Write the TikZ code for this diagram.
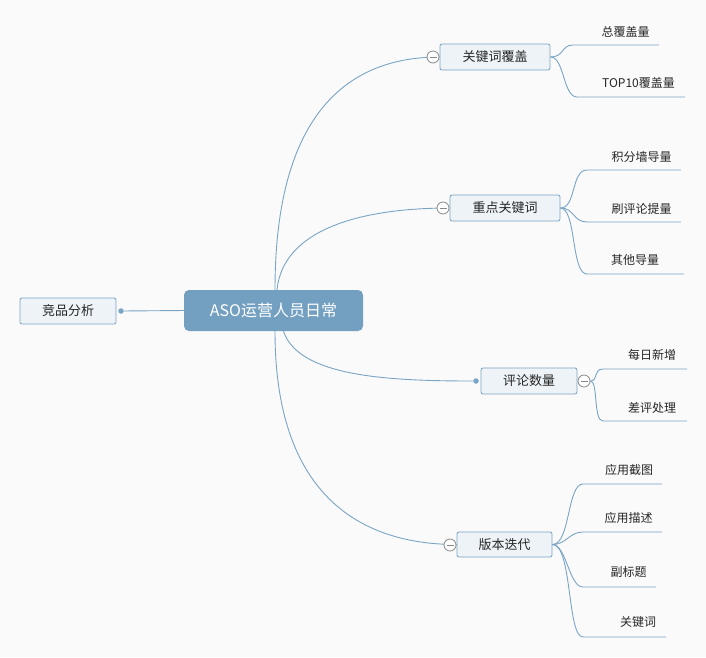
\documentclass[tikz,border=0pt]{standalone}
\usepackage{fontspec}
\setmainfont{Noto Sans CJK SC}
\definecolor{bg}{HTML}{FAFAFA}
\definecolor{ln}{HTML}{7AA4C4}
\definecolor{boxfill}{HTML}{EEF3F7}
\definecolor{boxdraw}{HTML}{7AA3C3}
\definecolor{rootfill}{HTML}{73A0C1}
\definecolor{cgray}{HTML}{888888}
\begin{document}
\begin{tikzpicture}[x=1pt,y=-1pt,
 topic/.style={draw=boxdraw, fill=boxfill, rounded corners=2pt, inner sep=0, minimum height=26pt, font=\fontsize{13}{15}\selectfont, text=black!85, line width=0.8pt},
 root/.style={fill=rootfill, rounded corners=5pt, text=white, font=\fontsize{16}{18}\selectfont, minimum width=179pt, minimum height=41pt, inner sep=0},
 leaf/.style={font=\fontsize{12}{14}\selectfont, inner sep=0, text=black!85},
 conn/.style={draw=ln, line width=0.9pt},
 fold/.style={circle, draw=cgray, fill=white, minimum size=12pt, inner sep=0, line width=0.8pt},
 dotc/.style={circle, fill=ln, minimum size=5.5pt, inner sep=0}]
\fill[bg] (0,0) rectangle (706,657);
\useasboundingbox (0,0) rectangle (706,657);

% main nodes
\node[root] (root) at (273.5,310.5) {ASO运营人员日常};
\node[topic, minimum width=96pt] (comp) at (68,311) {竞品分析};
\node[topic, minimum width=110pt] (t1) at (495,57) {关键词覆盖};
\node[topic, minimum width=110pt] (t2) at (505,208) {重点关键词};
\node[topic, minimum width=96pt] (t3) at (529,381) {评论数量};
\node[topic, minimum width=95pt, minimum height=25pt] (t4) at (504.5,544.5) {版本迭代};

% dots
\node[dotc] (d0) at (121,311) {};
\node[dotc] (d3) at (476,381) {};

% main connectors
\draw[conn] (root.west) -- (d0);
\draw[conn] ([xshift=1.5pt]root.north) .. controls +(0,-190) and +(-80,0) .. (t1.west);
\draw[conn] ([xshift=3.5pt]root.north) .. controls +(6,-60) and +(-90,0) .. (t2.west);
\draw[conn] ([xshift=10pt]root.south) .. controls +(15,45) and +(-90,0) .. (d3);
\draw[conn] ([xshift=1.5pt]root.south) .. controls +(0,170) and +(-90,0) .. (t4.west);

% fold circles
\node[fold] (f1) at (433,57) {};
\node[fold] (f2) at (443,208) {};
\node[fold] (f3) at (584,381) {};
\node[fold] (f4) at (450,545) {};
\foreach \f in {f1,f2,f3,f4}{\draw[cgray, line width=0.8pt] ([xshift=-3.5pt]\f.center) -- ([xshift=3.5pt]\f.center);}

% leaves
\node[leaf] (l11) at (625.5,32) {总覆盖量};
\node[leaf] (l12) at (638.5,83) {TOP10覆盖量};
\coordinate (l11a) at (573,45); \coordinate (l11b) at (659,45);
\coordinate (l12a) at (577,97); \coordinate (l12b) at (685,97);

\node[leaf] (l21) at (641.5,157) {积分墙导量};
\node[leaf] (l22) at (641.5,209) {刷评论提量};
\node[leaf] (l23) at (635,260) {其他导量};
\coordinate (l21a) at (587,170); \coordinate (l21b) at (681,170);
\coordinate (l22a) at (587,222); \coordinate (l22b) at (681,222);
\coordinate (l23a) at (587,274); \coordinate (l23b) at (684,274);

\node[leaf] (l31) at (652,355) {每日新增};
\node[leaf] (l32) at (652,408) {差评处理};
\coordinate (l31a) at (603,369); \coordinate (l31b) at (687,369);
\coordinate (l32a) at (603,421); \coordinate (l32b) at (687,421);

\node[leaf] (l41) at (629,470) {应用截图};
\node[leaf] (l42) at (628.5,518) {应用描述};
\node[leaf] (l43) at (628.5,572) {副标题};
\node[leaf] (l44) at (638,622) {关键词};
\coordinate (l41a) at (583,484); \coordinate (l41b) at (662,484);
\coordinate (l42a) at (583,532); \coordinate (l42b) at (662,532);
\coordinate (l43a) at (583,587); \coordinate (l43b) at (656,587);
\coordinate (l44a) at (583,637); \coordinate (l44b) at (666,637);

% leaf connectors
\draw[conn] (t1.east) .. controls +(14,0) and +(-12,0) .. (l11a) -- (l11b);
\draw[conn] (t1.east) .. controls +(14,0) and +(-14,0) .. (l12a) -- (l12b);
\draw[conn] (t2.east) .. controls +(16,0) and +(-16,0) .. (l21a) -- (l21b);
\draw[conn] (t2.east) .. controls +(14,0) and +(-14,0) .. (l22a) -- (l22b);
\draw[conn] (t2.east) .. controls +(16,0) and +(-16,0) .. (l23a) -- (l23b);
\draw[conn] (f3.east) .. controls +(8,0) and +(-10,0) .. (l31a) -- (l31b);
\draw[conn] (f3.east) .. controls +(8,0) and +(-10,0) .. (l32a) -- (l32b);
\draw[conn] (t4.east) .. controls +(18,0) and +(-16,0) .. (l41a) -- (l41b);
\draw[conn] (t4.east) .. controls +(14,0) and +(-14,0) .. (l42a) -- (l42b);
\draw[conn] (t4.east) .. controls +(14,0) and +(-14,0) .. (l43a) -- (l43b);
\draw[conn] (t4.east) .. controls +(20,0) and +(-16,0) .. (l44a) -- (l44b);
\end{tikzpicture}
\end{document}
